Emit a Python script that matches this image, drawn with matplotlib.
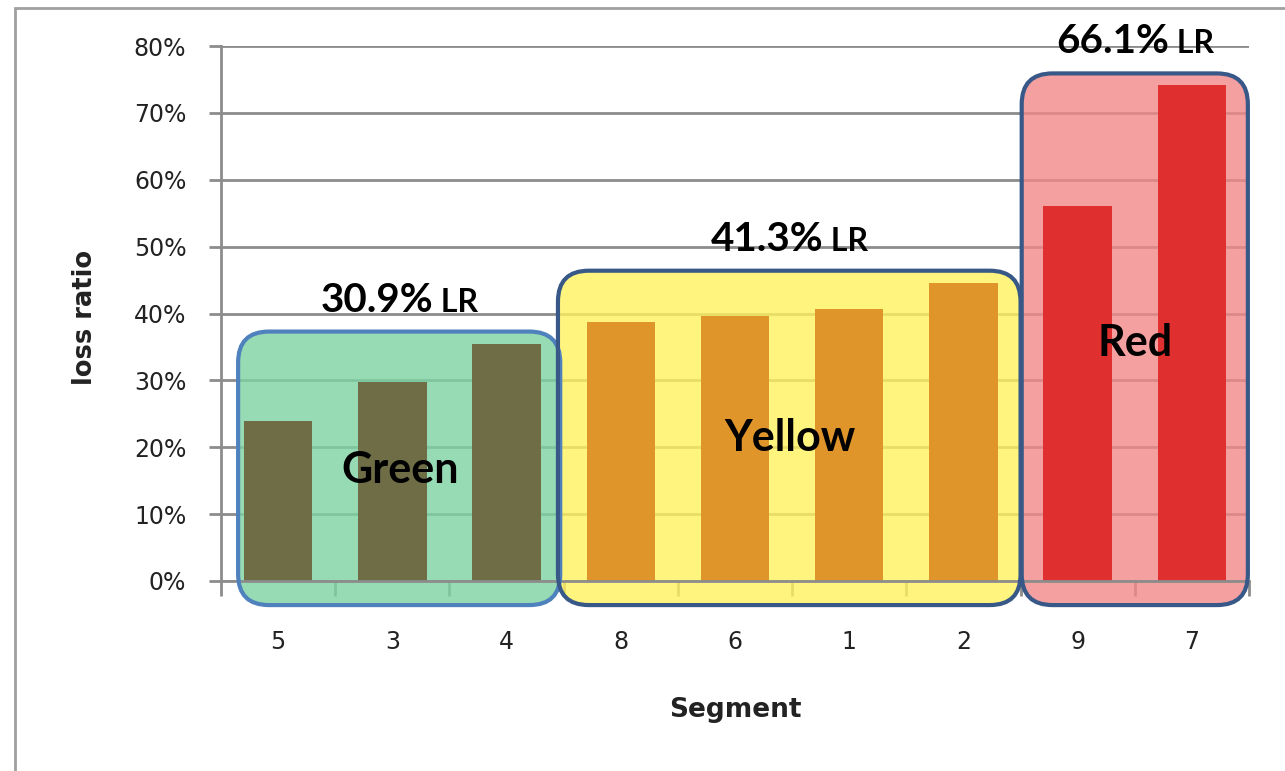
import numpy as np
import matplotlib.pyplot as plt
from matplotlib.patches import FancyBboxPatch, Rectangle
from matplotlib import transforms
from matplotlib.ticker import FixedLocator, PercentFormatter

segments = ['5', '3', '4', '8', '6', '1', '2', '9', '7']
loss_ratio = [0.239, 0.298, 0.355, 0.388, 0.396, 0.407, 0.446, 0.561, 0.741]

groups = ['Green', 'Yellow', 'Red']
group_size = [3, 4, 2]
group_lr = ['30.9%', '41.3%', '66.1%']

bar_colors = ['#6f6d45', '#df952a', '#df2f2f']
box_faces = ['#7cd3a1', '#fff25d', '#f28888']
box_edges = ['#4f81bd', '#385888', '#385888']
# box edges relative to the group's first / last bar, and where each group name sits
box_left_pad = [0.35, 0.55, 0.49]
box_right_pad = [0.47, 0.50, 0.49]
name_pos = [(1.07, 0.166), (4.48, 0.214), (7.50, 0.356)]

W, H = 1285, 771
fig = plt.figure(figsize=(W / 100, H / 100), dpi=100)
ax = fig.add_axes([221 / W, 1 - 581 / H, (1249 - 221) / W, (581 - 46) / H])

x = np.arange(len(segments))
ax.set_xlim(-0.5, len(segments) - 0.5)
ax.set_ylim(0, 0.8)

grid_gray = '#8c8c8c'
ax.set_axisbelow(True)
ax.yaxis.set_major_locator(FixedLocator(np.arange(0, 0.81, 0.1)))
ax.yaxis.set_major_formatter(PercentFormatter(1.0, decimals=0))
ax.grid(axis='y', color=grid_gray, linewidth=2)
for side in ['top', 'right']:
    ax.spines[side].set_visible(False)
for side in ['left', 'bottom']:
    ax.spines[side].set_color(grid_gray)
    ax.spines[side].set_linewidth(2)

ax.set_xticks(x)
ax.set_xticklabels(segments)
ax.set_xticks(np.arange(-0.5, len(segments)), minor=True)
ax.tick_params(axis='x', which='major', length=0, pad=35, labelsize=17, labelcolor='#222222')
ax.tick_params(axis='x', which='minor', length=11, width=2, color=grid_gray)
ax.tick_params(axis='y', length=9, width=2, color=grid_gray, pad=16, labelsize=17,
               labelcolor='#222222')

# pixel scale of one x unit vs one y unit, keeps the box corners round
aspect = (ax.bbox.width / 9) / (ax.bbox.height / 0.8)

start = 0
for g, name in enumerate(groups):
    idx = list(range(start, start + group_size[g]))
    vals = [loss_ratio[i] for i in idx]

    left = idx[0] - box_left_pad[g]
    right = idx[-1] + box_right_pad[g]
    top = max(vals) + 0.018
    bottom = -0.036

    face = FancyBboxPatch((left, bottom), right - left, top - bottom,
                          boxstyle='round,pad=0,rounding_size=0.27',
                          mutation_aspect=aspect, facecolor=box_faces[g], alpha=0.8,
                          edgecolor='none', zorder=1, clip_on=False)
    ax.add_patch(face)
    ax.bar(idx, vals, width=0.6, color=bar_colors[g], zorder=2)
    edge = FancyBboxPatch((left, bottom), right - left, top - bottom,
                          boxstyle='round,pad=0,rounding_size=0.27',
                          mutation_aspect=aspect, facecolor='none',
                          edgecolor=box_edges[g], linewidth=3, zorder=3, clip_on=False)
    ax.add_patch(edge)

    ax.text(name_pos[g][0], name_pos[g][1], name, ha='center', va='center',
            family='Lato', fontweight='bold', fontsize=31, zorder=4)

    # "xx.x% LR" label: large value, smaller LR, centred above the box
    cx = (left + right) / 2
    t1 = ax.text(cx, top, group_lr[g], ha='left', va='baseline', family='Lato',
                 fontweight='bold', fontsize=29, zorder=4, clip_on=False)
    t2 = ax.text(cx, top, ' LR', ha='left', va='baseline', family='Lato',
                 fontweight='bold', fontsize=23, zorder=4, clip_on=False)
    r = fig.canvas.get_renderer()
    w1 = t1.get_window_extent(r).width
    w2 = t2.get_window_extent(r).width
    t1.set_transform(transforms.offset_copy(ax.transData, fig=fig, x=-(w1 + w2) / 2, y=20,
                                            units='dots'))
    t2.set_transform(transforms.offset_copy(ax.transData, fig=fig, x=-(w1 + w2) / 2 + w1,
                                            y=20, units='dots'))
    start += group_size[g]

fig.text(735 / W, 1 - 710 / H, 'Segment', ha='center', va='center', fontsize=19,
         fontweight='bold', color='#222222')
fig.text(85 / W, 1 - 317 / H, 'loss ratio', ha='center', va='center', rotation=90,
         fontsize=18.5, fontweight='bold', color='#222222')

# outer chart frame
fig.patches.append(Rectangle((15 / W, -0.2), 1.2, 1 - 8 / H + 0.2, transform=fig.transFigure,
                             facecolor='none', edgecolor='#a0a0a0', linewidth=2))

fig.savefig('out.png', dpi=100)
